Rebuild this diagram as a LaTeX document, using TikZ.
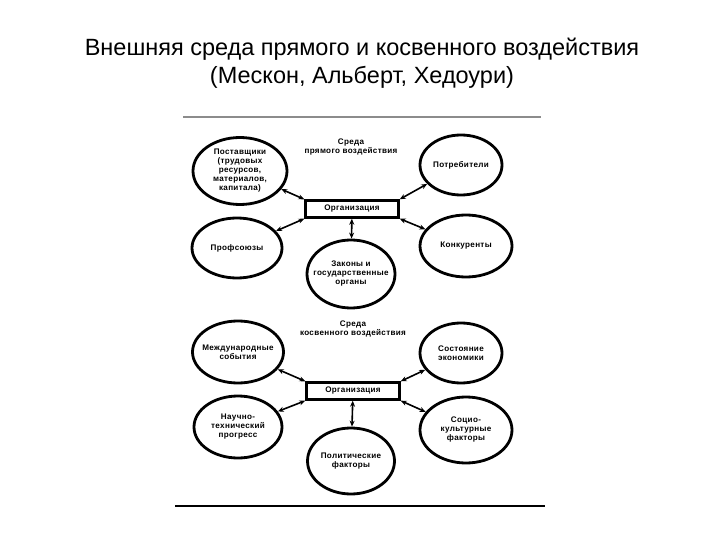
\documentclass[tikz,border=0pt]{standalone}
\usepackage{fontspec}
\setmainfont{Liberation Sans}
\usetikzlibrary{shapes.geometric,arrows.meta}
\newcommand{\smallbold}{\fontsize{8.1}{9}\selectfont\bfseries\addfontfeature{LetterSpace=4}}
\tikzset{
  env/.style={ellipse, draw, line width=2.8pt, inner sep=0pt},
  orgbox/.style={rectangle, draw, line width=2.4pt, minimum width=93pt, minimum height=17pt,
    inner sep=0pt, font=\smallbold},
  lbl/.style={align=center, font=\smallbold, inner sep=0pt},
  link/.style={{Stealth[length=6pt,width=5pt]}-{Stealth[length=6pt,width=5pt]}, line width=1.6pt},
  rule/.style={line width=1.2pt}
}
\begin{document}
\begin{tikzpicture}[x=1pt,y=-1pt]
\useasboundingbox (0,0) rectangle (720,540);
\node[font=\fontsize{23.5}{28}\selectfont] (t1) at (362,49) {Внешняя среда прямого и косвенного воздействия};
\node[font=\fontsize{23.5}{28}\selectfont] (t2) at (362,77) {(Мескон, Альберт, Хедоури)};
\coordinate (r1a) at (183,117); \coordinate (r1b) at (541,117);
\coordinate (r2a) at (175,506); \coordinate (r2b) at (545,506);
\draw[rule, black!45] (r1a) -- (r1b);
\draw[rule] (r2a) -- (r2b);

% upper part
\node[lbl] (s1) at (351,147) {Среда\\прямого воздействия};
\node[orgbox] (o1) at (352,209) {Организация};
\node[env, minimum width=94pt, minimum height=67pt] (e1) at (240,171) {};
\node[lbl] (e1t) at (e1) {Поставщики\\(трудовых\\ресурсов,\\материалов,\\капитала)};
\node[env, minimum width=82pt, minimum height=60pt] (e2) at (461,165) {};
\node[lbl] (e2t) at (e2) {Потребители};
\node[env, minimum width=90pt, minimum height=60pt] (e3) at (237,248) {};
\node[lbl] (e3t) at (e3) {Профсоюзы};
\node[env, minimum width=92pt, minimum height=62pt] (e4) at (466,246) {};
\node[lbl] (e4t) at (e4) {Конкуренты};
\node[env, minimum width=88pt, minimum height=68pt] (e5) at (351,274) {};
\node[lbl] (e5t) at (e5) {Законы и\\государственные\\органы};
\draw[link] (e1) -- (o1.north west);
\draw[link] (e2) -- (o1.north east);
\draw[link] (e3) -- (o1.south west);
\draw[link] (e4) -- (o1.south east);
\draw[link] (o1) -- (e5);

% lower part
\node[lbl] (s2) at (353,329) {Среда\\косвенного воздействия};
\node[orgbox] (o2) at (353,391) {Организация};
\node[env, minimum width=91pt, minimum height=62pt] (f1) at (238,352) {};
\node[lbl] (f1t) at (f1) {Международные\\события};
\node[env, minimum width=82pt, minimum height=60pt] (f2) at (461,353) {};
\node[lbl] (f2t) at (f2) {Состояние\\экономики};
\node[env, minimum width=88pt, minimum height=62pt] (f3) at (238,427) {};
\node[lbl] (f3t) at (f3) {Научно-\\технический\\прогресс};
\node[env, minimum width=92pt, minimum height=66pt] (f4) at (466,430) {};
\node[lbl] (f4t) at (f4) {Социо-\\культурные\\факторы};
\node[env, minimum width=87pt, minimum height=66pt] (f5) at (351,461) {};
\node[lbl] (f5t) at (f5) {Политические\\факторы};
\draw[link] (f1) -- (o2.north west);
\draw[link] (f2) -- (o2.north east);
\draw[link] (f3) -- (o2.south west);
\draw[link] (f4) -- (o2.south east);
\draw[link] (o2) -- (f5);
\end{tikzpicture}
\end{document}
